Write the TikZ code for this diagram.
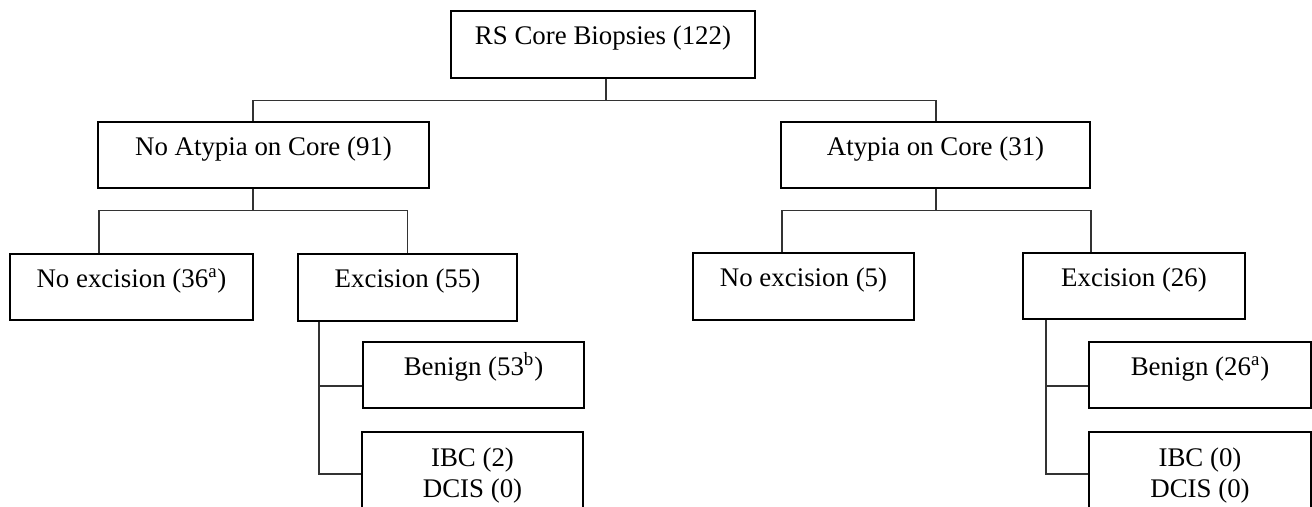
\documentclass[tikz,border=0pt]{standalone}
\usepackage{fontspec}
\setmainfont{Liberation Serif}
\tikzset{
x=0.02cm,
y=-0.02cm,
box/.style={draw, line width=1.1pt, inner sep=0pt, text height=0pt, text depth=0pt, minimum height=1.33cm, font=\fontsize{15.3}{17.1}\selectfont},
tallbox/.style={box, anchor=north, text height=0.7cm, text depth=2cm},
link/.style={line width=0.7pt, draw=black!80},
}

\begin{document}
\begin{tikzpicture}
        \useasboundingbox (0,0) rectangle (1312,507);
        \clip (0,0) rectangle (1312,507);

        \node[box,minimum width=6.08cm] (root) at (603,44.5) {RS Core Biopsies (122)};
        \node[box,minimum width=6.62cm] (noatyp) at (263.5,155) {No Atypia on Core (91)};
        \node[box,minimum width=6.18cm] (atyp) at (935.5,155) {Atypia on Core (31)};

        \node[box,minimum width=4.86cm] (noexcA) at (131.5,287) {No excision (36\textsuperscript{a})};
        \node[box,minimum width=4.38cm] (excA) at (407.5,287.5) {Excision (55)};
        \node[box,minimum width=4.42cm] (noexcB) at (803.5,286.5) {No excision (5)};
        \node[box,minimum width=4.44cm] (excB) at (1134,286) {Excision (26)};

        \node[box,minimum width=4.42cm] (benignA) at (473.5,375) {Benign (53\textsuperscript{b})};
        \node[tallbox,minimum width=4.42cm] (ibcA) at (472.5,431) {\begin{tabular}[t]{@{}c@{}}IBC (2)\\DCIS (0)\end{tabular}};
        \node[box,minimum width=4.44cm] (benignB) at (1200,375) {Benign (26\textsuperscript{a})};
        \node[tallbox,minimum width=4.44cm] (ibcB) at (1200,431) {\begin{tabular}[t]{@{}c@{}}IBC (0)\\DCIS (0)\end{tabular}};

        \draw[link] ([shift={(3,0)}]root.south) -- ++(0,22) coordinate (b0);
        \draw[link] ([shift={(-10.5,0)}]noatyp.north) |- (b0) -| ([shift={(0.5,0)}]atyp.north);

        \draw[link] ([shift={(-10.5,0)}]noatyp.south) -- ++(0,21) coordinate (b1);
        \draw[link] ([shift={(-32.5,0)}]noexcA.north) |- (b1) -| (excA.north);

        \draw[link] ([shift={(0.5,0)}]atyp.south) -- ++(0,21) coordinate (b2);
        \draw[link] ([shift={(-21.5,0)}]noexcB.north) |- (b2) -| ([shift={(-43,0)}]excB.north);

        \draw[link] ([shift={(22,0)}]excA.south west) |- ([shift={(0,11)}]benignA.west);
        \draw[link] ([shift={(22,0)}]excA.south west) |- ([shift={(0,43)}]ibcA.north west);
        \draw[link] ([shift={(24,0)}]excB.south west) |- ([shift={(0,11)}]benignB.west);
        \draw[link] ([shift={(24,0)}]excB.south west) |- ([shift={(0,43)}]ibcB.north west);
    \end{tikzpicture}
\end{document}
